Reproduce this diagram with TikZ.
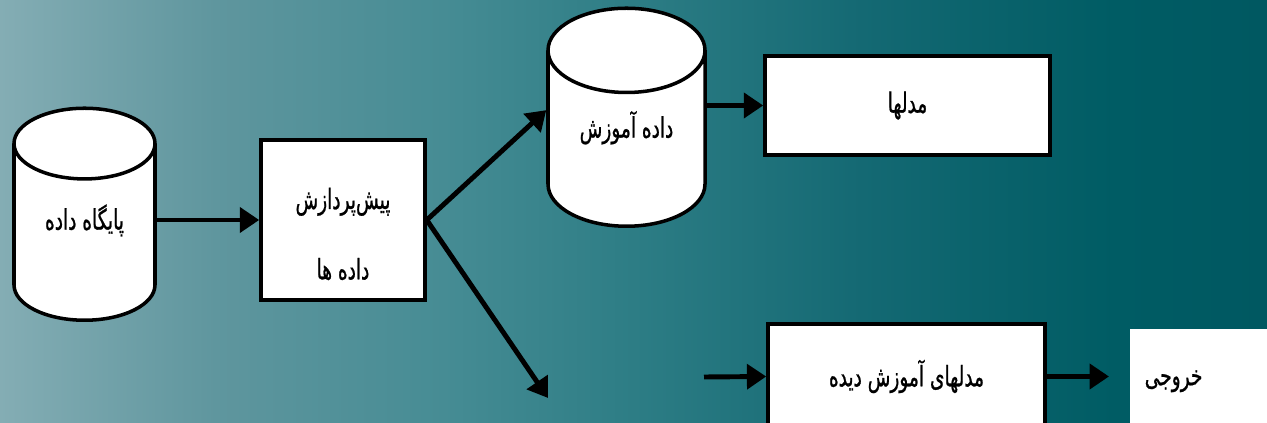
\documentclass[tikz,border=0pt]{standalone}
\usepackage{fontspec}
\newfontfamily\arabicfont[Script=Arabic,FakeStretch=0.66,FakeBold=0.8]{DejaVu Sans}
\TeXXeTstate=1
\usetikzlibrary{shapes.geometric, arrows.meta}
\definecolor{bgA}{RGB}{132,173,180}
\definecolor{bgB}{RGB}{95,150,158}
\definecolor{bgC}{RGB}{70,140,148}
\definecolor{bgD}{RGB}{45,125,133}
\definecolor{bgE}{RGB}{20,105,115}
\definecolor{bgF}{RGB}{0,92,100}
\definecolor{bgG}{RGB}{0,88,97}
\pgfdeclarehorizontalshading{bgshade}{100bp}{color(0bp)=(bgA); color(25bp)=(bgA); color(33.5bp)=(bgB); color(42.5bp)=(bgC); color(50bp)=(bgD); color(59bp)=(bgE); color(69bp)=(bgF); color(75bp)=(bgG); color(100bp)=(bgG)}
\newcommand{\dbraise}{\rule[-26pt]{0pt}{26pt}}
\tikzset{
  db/.style={cylinder, shape border rotate=90, draw, fill=white, line width=2pt, aspect=0.78, anchor=south, font=\arabicfont\fontsize{16}{18}\selectfont},
  box/.style={rectangle, draw, fill=white, line width=2pt, font=\arabicfont\fontsize{16}{18}\selectfont, align=center},
  flow/.style={line width=2.8pt, -{Triangle[length=11pt,width=14pt]}}
}

\begin{document}
\begin{tikzpicture}
\clip (0, 0) rectangle (25.34, 8.46);
\shade [shading=bgshade] (0, 0) rectangle (25.34, 8.46);
% data sources
\node [db, minimum width=2.82cm, minimum height=4.24cm] (base) at (1.69, 2.02) {\dbraise\beginR پایگاه داده\endR};
\node [box, minimum width=3.28cm, minimum height=3.2cm] (prep) at (6.86, 4.06) {\rule{0pt}{28pt}\beginR پیش‌پردازش\endR\\[22pt]\beginR داده ها\endR};
\node [db, minimum width=3.14cm, minimum height=4.36cm, aspect=0.8] (train) at (12.53, 3.9) {\dbraise\beginR داده آموزش\endR};
% models
\node [box, minimum width=5.7cm, minimum height=1.98cm] (models) at (18.15, 6.35) {\beginR مدلها\endR};
\node [box, minimum width=5.54cm, minimum height=2.1cm] (trained) at (18.13, 0.93) {\beginR مدلهای آموزش دیده\endR};
\node [box, draw=none, anchor=north west, text width=2.6cm, inner xsep=0.3cm, minimum height=2.1cm, align=left] (out) at (22.56, 1.92) {\beginR خروجی\endR};
\coordinate (test) at (10.96, 0.5);
\coordinate (feed) at (14.08, 0.92);
% arrows
\draw [flow] (prep.west -| base.east) -- (prep.west);
\draw [flow] (prep.east) -- ([yshift=0.74cm]train.west);
\draw [flow] (prep.east) -- (test);
\draw [flow] (models.west -| train.east) -- (models.west);
\draw [flow] (feed) -- (trained.west);
\draw [flow] (trained.east) -- ([xshift=-0.38cm]trained.east -| out.west);
\end{tikzpicture}
\end{document}
